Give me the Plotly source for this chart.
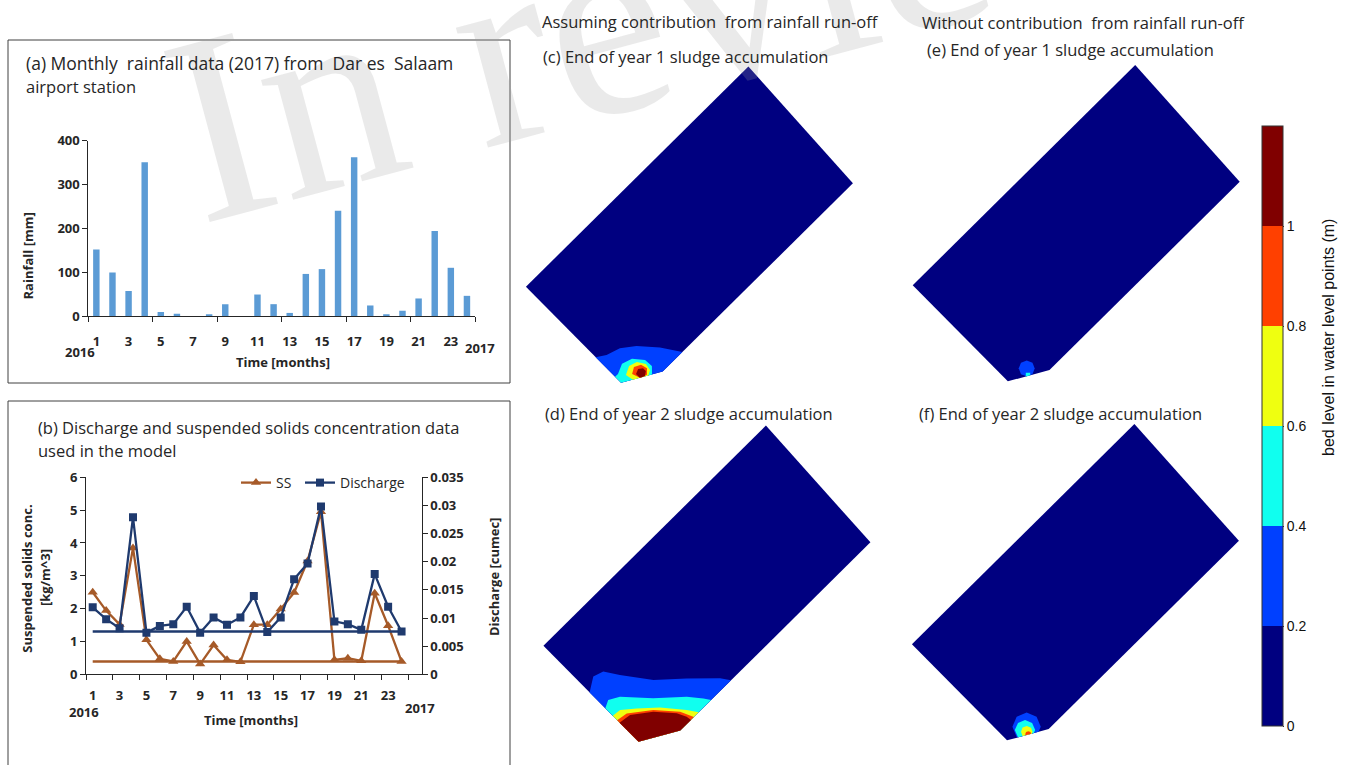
import math
import plotly.graph_objects as go

W, H = 1350, 765

# ---------------- data ----------------
months = list(range(1, 25))
month_tickvals = list(range(1, 24, 2))
month_ticktext = [str(m) for m in month_tickvals]

rainfall_mm = [152, 99, 57, 351, 9, 5, 0, 4, 27, 0, 49, 27,
               7, 96, 107, 240, 362, 24, 4, 12, 40, 194, 110, 46]

ss_kg_m3 = [2.50, 1.94, 1.52, 3.85, 1.05, 0.47, 0.39, 1.00, 0.31, 0.89, 0.44, 0.38,
            1.51, 1.51, 1.99, 2.49, 3.45, 4.95, 0.44, 0.49, 0.41, 2.47, 1.48, 0.39]
discharge_cumec = [0.0119, 0.0098, 0.0082, 0.0279, 0.0074, 0.0086, 0.0089, 0.0120, 0.0074, 0.0101, 0.0088, 0.0101,
                   0.0139, 0.0075, 0.0101, 0.0169, 0.0197, 0.0298, 0.0094, 0.0089, 0.0079, 0.0178, 0.0120, 0.0076]

rain_ticks = [0, 100, 200, 300, 400]
ss_ticks = [0, 1, 2, 3, 4, 5, 6]
q_ticks = [0, 0.005, 0.01, 0.015, 0.02, 0.025, 0.03, 0.035]
q_ticktext = ["0", "0.005", "0.01", "0.015", "0.02", "0.025", "0.03", "0.035"]

bed_levels = [0.0, 0.2, 0.4, 0.6, 0.8, 1.0, 1.2]
bed_colors = ["#000080", "#0040FF", "#10FFEF", "#EFFF10", "#FF4000", "#800000"]
bed_tickvals = [0, 0.2, 0.4, 0.6, 0.8, 1.0]
bed_ticktext = ["0", "0.2", "0.4", "0.6", "0.8", "1"]

# basin outline in local coordinates (a: along long side, b: along short side), metres
basin_a = [12.0, 97.5, 100.0, 0.0, 0.0]
basin_b = [0.0, 0.0, 50.0, 50.0, 6.8]

# contour regions (bed level >= level) in local coordinates, metres
bed_c = [
    (0.2, [-1, 3.0, 7.5, 11.8, 16.8, 21.5, -1], [19.0, 16.4, 14.9, 11.7, 6.1, -1, -1]),
    (0.4, [-1, 1.3, 4.5, 7.9, 10.6, 10.8, 8.8, 4.0, -1], [9.5, 9.5, 10.9, 9.8, 6.6, 3.7, 1.6, 0.0, 4.0]),
    (0.6, [2.9, 5.6, 8.3, 9.9, 9.5, 7.4, 4.0], [7.5, 8.8, 8.0, 5.5, 3.2, 2.1, 2.0]),
    (0.8, [4.5, 6.5, 8.6, 9.2, 7.7, 5.5], [6.3, 7.5, 6.4, 4.3, 2.8, 3.5]),
    (1.0, [5.4, 7.0, 8.3, 8.3, 7.0, 5.4], [5.45, 6.1, 5.2, 3.9, 3.0, 3.6]),
]
bed_d = [
    (0.2, [-1, 4.4, 7.8, 10.8, 17.3, 25.2, 32.8, 35.5, -1], [28.4, 31.8, 30.7, 26.2, 17.5, 10.4, 2.9, -1, -1]),
    (0.4, [-1, 2.5, 5.9, 13.1, 21.1, 24.5, 26.5, -1], [21.4, 23.1, 21.2, 13.4, 6.2, 2.1, -1, -1]),
    (0.6, [-1, 3.0, 7.1, 12.6, 18.1, 21.0, -1], [18.6, 18.2, 14.8, 9.8, 3.2, -1, -1]),
    (0.8, [-1, 3.7, 10.5, 16.2, 18.6, -1], [16.7, 15.9, 10.7, 4.3, -1, -1]),
    (1.0, [-1, 4.1, 10.1, 15.1, 16.6, 17.0, -1], [15.6, 14.8, 10.3, 4.7, 1.7, -1, -1]),
]
bed_e = [
    (0.2, [9.8, 9.0, 7.2, 5.4, 4.6, 5.4, 7.2, 9.0], [5.5, 7.3, 8.1, 7.3, 5.5, 3.7, 2.9, 3.7]),
    (0.4, [7.0, 6.0, 5.0, 6.0], [3.7, 4.7, 3.7, 2.7]),
]
bed_f = [
    (0.2, [12.0, 10.7, 7.5, 4.3, 3.0, 4.3, 7.5, 10.7], [5.5, 8.7, 10.0, 8.7, 5.5, 2.3, 1.0, 2.3]),
    (0.4, [9.6, 8.7, 6.4, 4.1, 3.2, 4.1, 6.4, 8.7], [5.1, 7.4, 8.3, 7.4, 5.1, 2.8, 1.9, 2.8]),
    (0.6, [8.3, 7.7, 6.4, 5.1, 4.5, 5.1, 6.4, 7.7], [4.3, 5.6, 6.2, 5.6, 4.3, 3.0, 2.4, 3.0]),
    (0.8, [7.2, 6.9, 6.2, 5.5, 5.2, 5.5, 6.2, 6.9], [3.4, 4.1, 4.4, 4.1, 3.4, 2.7, 2.4, 2.7]),
]

# ---------------- helpers ----------------
ROT = math.radians(44.7)   # orientation of the basin long side
PXM = 3.13                 # pixels per metre on the page
COS, SIN = math.cos(ROT), math.sin(ROT)


def to_xy(a_list, b_list):
    xs = [a * COS - b * SIN for a, b in zip(a_list, b_list)]
    ys = [a * SIN + b * COS for a, b in zip(a_list, b_list)]
    return xs, ys


def clip_poly(subject, clipper):
    out = list(subject)
    n = len(clipper)
    for i in range(n):
        A, B = clipper[i], clipper[(i + 1) % n]
        inp, out = out, []
        if not inp:
            break

        def inside(P):
            return (B[0] - A[0]) * (P[1] - A[1]) - (B[1] - A[1]) * (P[0] - A[0]) >= 0

        def inter(P, Q):
            x1, y1 = P; x2, y2 = Q; x3, y3 = A; x4, y4 = B
            den = (x1 - x2) * (y3 - y4) - (y1 - y2) * (x3 - x4)
            t = ((x1 - x3) * (y3 - y4) - (y1 - y3) * (x3 - x4)) / den
            return (x1 + t * (x2 - x1), y1 + t * (y2 - y1))

        S = inp[-1]
        for E in inp:
            if inside(E):
                if not inside(S):
                    out.append(inter(S, E))
                out.append(E)
            elif inside(S):
                out.append(inter(S, E))
            S = E
    return out


def px(x):
    return x / W


def py(y):
    return 1 - y / H


level_color = {lvl: c for lvl, c in zip(bed_levels[:-1], bed_colors)}

FONT = "Open Sans"
TXT = "#262626"
tickfont = dict(family=FONT, size=13, color=TXT, weight="bold")

fig = go.Figure()

# ---------------- (a) rainfall bars ----------------
fig.add_trace(go.Bar(x=months, y=rainfall_mm, width=0.4, marker=dict(color="#5B9BD5", line=dict(width=0)),
                     xaxis="x", yaxis="y", showlegend=False, hoverinfo="x+y"))

# ---------------- (b) SS and discharge ----------------
SS_COL = "#A65A28"
Q_COL = "#1F3A6E"
fig.add_trace(go.Scatter(x=[months[-1], months[0]], y=[ss_kg_m3[-1], ss_kg_m3[-1]], mode="lines",
                         line=dict(color=SS_COL, width=2.3), xaxis="x2", yaxis="y2", showlegend=False,
                         hoverinfo="skip"))
fig.add_trace(go.Scatter(x=months, y=ss_kg_m3, mode="lines+markers", name="SS\u00a0",
                         line=dict(color=SS_COL, width=2.3),
                         marker=dict(symbol="triangle-up", size=9, color=SS_COL),
                         xaxis="x2", yaxis="y2"))
fig.add_trace(go.Scatter(x=[months[-1], months[0]], y=[discharge_cumec[-1], discharge_cumec[-1]], mode="lines",
                         line=dict(color=Q_COL, width=2.3), xaxis="x2", yaxis="y3", showlegend=False,
                         hoverinfo="skip"))
fig.add_trace(go.Scatter(x=months, y=discharge_cumec, mode="lines+markers", name="Discharge",
                         line=dict(color=Q_COL, width=2.3),
                         marker=dict(symbol="square", size=8, color=Q_COL),
                         xaxis="x2", yaxis="y3"))

# ---------------- maps ----------------
maps = [
    ("4", bed_c, (636.0, 398.0), (515, 875, 60, 408)),
    ("5", bed_d, (653.5, 757.0), (515, 885, 418, 765)),
    ("6", bed_e, (1022.8, 396.5), (895, 1255, 60, 408)),
    ("7", bed_f, (1022.0, 755.5), (895, 1255, 418, 765)),
]
basin_poly = list(zip(basin_a, basin_b))
layout_axes = {}
for key, contours, (cx, cy), (x0, x1, y0, y1) in maps:
    xa, ya = "x" + key, "y" + key
    bx, by = to_xy(basin_a, basin_b)
    fig.add_trace(go.Scatter(x=bx + [bx[0]], y=by + [by[0]], fill="toself", mode="lines",
                             fillcolor=bed_colors[0], line=dict(width=0, color=bed_colors[0]),
                             xaxis=xa, yaxis=ya, showlegend=False, hoverinfo="skip"))
    for lvl, a_list, b_list in contours:
        poly = clip_poly(list(zip(a_list, b_list)), basin_poly)
        if len(poly) < 3:
            continue
        xs, ys = to_xy([p[0] for p in poly], [p[1] for p in poly])
        col = level_color[lvl]
        fig.add_trace(go.Scatter(x=xs + [xs[0]], y=ys + [ys[0]], fill="toself", mode="lines",
                                 fillcolor=col, line=dict(width=0, color=col),
                                 xaxis=xa, yaxis=ya, showlegend=False, hoverinfo="skip"))
    layout_axes["xaxis" + key] = dict(domain=[px(x0), px(x1)], range=[(x0 - cx) / PXM, (x1 - cx) / PXM],
                                      visible=False, anchor=ya, fixedrange=True)
    layout_axes["yaxis" + key] = dict(domain=[py(y1), py(y0)], range=[(cy - y1) / PXM, (cy - y0) / PXM],
                                      visible=False, anchor=xa, fixedrange=True)

# colour bar
cscale = []
for i, c in enumerate(bed_colors):
    cscale += [[bed_levels[i] / bed_levels[-1], c], [bed_levels[i + 1] / bed_levels[-1], c]]
fig.add_trace(go.Scatter(x=[0], y=[40], mode="markers", xaxis="x4", yaxis="y4", showlegend=False,
                         hoverinfo="skip",
                         marker=dict(size=1, opacity=0, color=[0], cmin=bed_levels[0], cmax=bed_levels[-1],
                                     colorscale=cscale, showscale=True,
                                     colorbar=dict(x=px(1262), xanchor="left", xpad=0, y=py(426), yanchor="middle",
                                                   ypad=0, len=600, lenmode="pixels", thickness=21,
                                                   thicknessmode="pixels", outlinewidth=1, outlinecolor="#333333",
                                                   tickvals=bed_tickvals, ticktext=bed_ticktext, ticks="outside",
                                                   ticklen=1, tickcolor="#333333",
                                                   tickfont=dict(family="Liberation Sans", size=14, color="#111111")))))

# ---------------- layout ----------------
axis_line = dict(showline=True, linecolor=TXT, linewidth=1, showgrid=False, zeroline=False)

layout = dict(
    width=W, height=H, margin=dict(l=0, r=0, t=0, b=0, autoexpand=False),
    paper_bgcolor="white", plot_bgcolor="rgba(0,0,0,0)",
    showlegend=True,
    legend=dict(orientation="h", x=px(236), y=py(467), xanchor="left", yanchor="top",
                font=dict(family=FONT, size=14, color=TXT), bgcolor="rgba(0,0,0,0)", itemwidth=30),
    xaxis=dict(domain=[px(88.3), px(475)], range=[0.5, 24.5], anchor="y",
               tickmode="array", tickvals=month_tickvals, ticktext=month_ticktext,
               ticks="outside", ticklen=13, tickcolor="rgba(0,0,0,0)", tickfont=tickfont,
               minor=dict(tick0=0.5, dtick=4, ticks="outside", ticklen=5, tickcolor=TXT, showgrid=False),
               fixedrange=True, **axis_line),
    yaxis=dict(domain=[py(316), py(140.7)], range=[0, 400], anchor="x", tickmode="array", tickvals=rain_ticks,
               ticks="outside", ticklen=5, tickcolor=TXT, tickfont=tickfont, fixedrange=True, **axis_line),
    xaxis2=dict(domain=[px(86), px(421.7)], range=[0.5, 25.5], anchor="y2",
                tickmode="array", tickvals=month_tickvals, ticktext=month_ticktext,
                ticks="outside", ticklen=9, tickcolor="rgba(0,0,0,0)", tickfont=tickfont,
                minor=dict(tick0=0.5, dtick=2, ticks="outside", ticklen=5, tickcolor=TXT, showgrid=False),
                fixedrange=True, **axis_line),
    yaxis2=dict(domain=[py(674.3), py(477.3)], range=[0, 6], anchor="x2", tickmode="array", tickvals=ss_ticks,
                ticks="outside", ticklen=5, tickcolor=TXT, tickfont=tickfont, fixedrange=True, **axis_line),
    yaxis3=dict(range=[0, 0.035], anchor="x2", overlaying="y2", side="right", tickmode="array",
                tickvals=q_ticks, ticktext=q_ticktext, ticks="outside", ticklen=5, tickcolor=TXT,
                tickfont=tickfont, fixedrange=True, **axis_line),
)
layout.update(layout_axes)

# panel borders
shapes = [
    dict(type="rect", xref="paper", yref="paper", x0=px(8), x1=px(510), y0=py(383), y1=py(40),
         line=dict(color="#404040", width=1), fillcolor="rgba(0,0,0,0)", layer="below"),
    dict(type="rect", xref="paper", yref="paper", x0=px(8), x1=px(510), y0=py(775), y1=py(401),
         line=dict(color="#404040", width=1), fillcolor="rgba(0,0,0,0)", layer="below"),
]
layout["shapes"] = shapes


def ann(text, x, y, size=16.5, bold=False, angle=0, xanchor="left", color=TXT, family=FONT):
    return dict(text=text, x=px(x), y=py(y), xref="paper", yref="paper", showarrow=False,
                xanchor=xanchor, yanchor="middle", textangle=angle,
                font=dict(family=family, size=size, color=color, weight="bold" if bold else "normal"))


NB = "\u00a0"
annotations = [
    dict(text="In review", x=px(672), y=py(3), xref="paper", yref="paper", showarrow=False,
         xanchor="center", yanchor="middle", textangle=-15,
         font=dict(family="Liberation Serif", size=270, color="rgba(160,160,160,0.22)")),
    ann("(a) Monthly" + NB + " rainfall data (2017) from" + NB + " Dar es" + NB + " Salaam", 24, 63, size=17.5),
    ann("airport station", 24, 86),
    ann("(b) Discharge and suspended solids concentration data", 36, 427),
    ann("used in the model", 36, 450),
    ann("Assuming contribution" + NB + " from rainfall run-off", 540, 21),
    ann("(c) End of year 1 sludge accumulation", 541, 57),
    ann("Without contribution" + NB + " from rainfall run-off", 920, 22),
    ann("(e) End of year 1 sludge accumulation", 925, 50),
    ann("(d) End of year 2 sludge accumulation", 543, 413),
    ann("(f) End of year 2 sludge accumulation", 917, 413),
    ann("Rainfall [mm]", 27.5, 256, size=13, bold=True, angle=-90, xanchor="center"),
    ann("Time [months]", 282.5, 362, size=13, bold=True, xanchor="center"),
    ann("2016", 80, 352, size=13, bold=True, xanchor="center"),
    ann("2017", 480, 348, size=13, bold=True, xanchor="center"),
    ann("Suspended solids conc.", 26.7, 579, size=13, bold=True, angle=-90, xanchor="center"),
    ann("[kg/m^3]", 45, 578, size=13, bold=True, angle=-90, xanchor="center"),
    ann("Discharge [cumec]", 494, 577, size=13, bold=True, angle=-90, xanchor="center"),
    ann("Time [months]", 251, 720, size=13, bold=True, xanchor="center"),
    ann("2016", 84, 712, size=13, bold=True, xanchor="center"),
    ann("2017", 420, 708, size=13, bold=True, xanchor="center"),
    ann("bed level in water level points (m)", 1328, 338, size=16, angle=-90, xanchor="center",
        color="#111111", family="Liberation Sans"),
]
layout["annotations"] = annotations

fig.update_layout(**layout)
fig.write_html("out.html")
